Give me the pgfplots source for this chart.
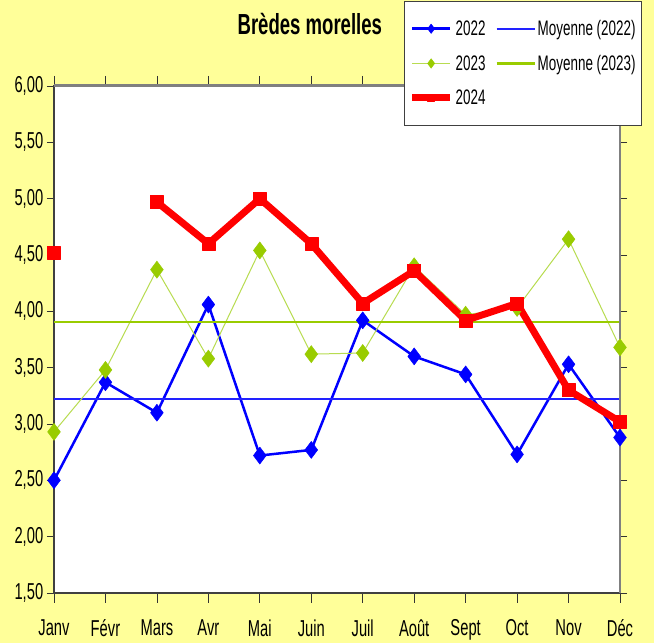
\documentclass[border=0pt]{standalone}
\usepackage{fontspec}
\setmainfont{Liberation Sans}[FakeStretch=0.64]
\usepackage{pgfplots}
\pgfplotsset{compat=1.18}
\definecolor{bgyellow}{HTML}{FFFF99}
\definecolor{blueA}{HTML}{0000FF}
\definecolor{blueM}{HTML}{2222FF}
\definecolor{greenA}{HTML}{99CC00}
\definecolor{greenL}{HTML}{B8DC50}
\definecolor{greenM}{HTML}{99CC00}
\definecolor{redA}{HTML}{FF0000}
\begin{document}
\begin{tikzpicture}
\fill[bgyellow] (-54pt,-50pt) rectangle (600pt,593pt);
\begin{axis}[
  scale only axis, width=566pt, height=507pt,
  axis background/.style={fill=white},
  xmin=0, xmax=11, ymin=1.5, ymax=6,
  clip=false,
  xtick={0,1,2,3,4,5,6,7,8,9,10,11},
  xticklabels={Janv,Févr,Mars,Avr,Mai,Juin,Juil,Août,Sept,Oct,Nov,Déc},
  ytick={1.5,2,2.5,3,3.5,4,4.5,5,5.5,6},
  tick align=outside,
  xtick style={black!80, line width=0.8pt, /pgfplots/major tick length=10pt},
  ytick style={black!80, line width=0.8pt, /pgfplots/major tick length=7pt},
  tick label style={font=\fontsize{23}{26}\selectfont, text=black},
  xticklabel style={yshift=-19pt},
  yticklabel style={xshift=-3pt, /pgf/number format/.cd, fixed, fixed zerofill, precision=2, use comma, assume math mode=true},
  axis line style={draw=black!75, line width=1.5pt},
  title={Brèdes morelles},
  title style={at={(0.452,1.110)}, anchor=center, font=\bfseries\fontsize{29}{32}\selectfont},
  legend columns=2,
  legend cell align=left,
  legend style={at={(1.0389,1.1677)}, anchor=north east, font=\fontsize{21}{24}\selectfont,
    draw=black!75, line width=0.8pt, fill=white, inner xsep=4pt, inner ysep=17pt,
    /tikz/every even column/.append style={column sep=8pt},
    row sep=14pt},
  legend image code/.code={\draw[mark repeat=2,mark phase=2,#1, every mark/.append style={scale=0.55}] plot coordinates {(0pt,0pt)(19pt,0pt)(38pt,0pt)};},
]
\addplot[color=blueA, line width=2.5pt, line join=round, mark=diamond*, mark size=8.5pt, mark options={solid, fill=blueA, draw=blueA, line width=0.5pt}]
  coordinates {(0,2.50)(1,3.37)(2,3.10)(3,4.06)(4,2.72)(5,2.77)(6,3.92)(7,3.60)(8,3.44)(9,2.73)(10,3.53)(11,2.88)};
\addlegendentry{2022}
\addplot[color=blueM, line width=1.8pt] coordinates {(0,3.22)(11,3.22)};
\addlegendentry{Moyenne (2022)}
\addplot[color=greenL, line width=1pt, mark=diamond*, mark size=8.5pt, mark options={solid, fill=greenA, draw=greenA, line width=0.5pt}]
  coordinates {(0,2.93)(1,3.48)(2,4.37)(3,3.58)(4,4.54)(5,3.62)(6,3.63)(7,4.40)(8,3.97)(9,4.03)(10,4.64)(11,3.68)};
\addlegendentry{2023}
\addplot[draw=greenM, line width=2.2pt, mark=none] coordinates {(0,3.905)(11,3.905)};
\addlegendentry{Moyenne (2023)}
\addplot[color=redA, line width=7pt, line join=round, unbounded coords=jump, mark=square*, mark size=6.5pt, mark options={solid, fill=redA, draw=redA, line width=0.5pt}]
  coordinates {(0,4.52)(1,nan)(2,4.97)(3,4.60)(4,5.00)(5,4.60)(6,4.07)(7,4.36)(8,3.92)(9,4.07)(10,3.30)(11,3.02)};
\addlegendentry{2024}
\draw[gray, line width=3pt] (rel axis cs:0,1) -- (rel axis cs:1,1);
\draw[gray, line width=2pt] (rel axis cs:1,0) -- (rel axis cs:1,1);
\end{axis}
\end{tikzpicture}
\end{document}
